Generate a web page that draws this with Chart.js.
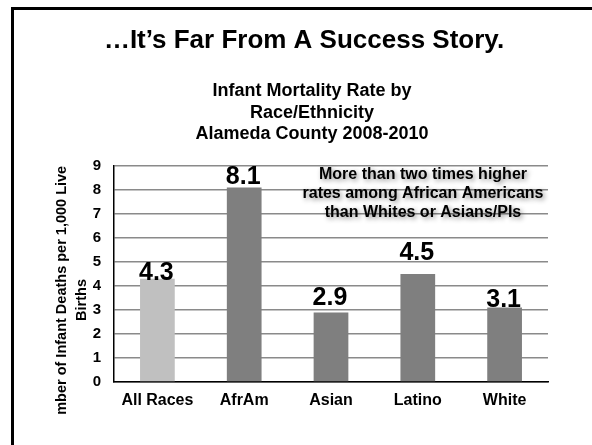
<!DOCTYPE html>
<html>
<head>
<meta charset="utf-8">
<script src="https://cdn.jsdelivr.net/npm/chart.js@4.4.0/dist/chart.umd.min.js"></script>
<style>
  html, body { margin: 0; padding: 0; background: #fff; overflow: hidden; }
  #slide { position: relative; width: 592px; height: 445px; }
  #frame { position: absolute; left: 11px; top: 7px; width: 700px; height: 600px;
           border-left: 3px solid #000; border-top: 3px solid #000; }
  #chart { position: absolute; left: 0; top: 0; }
</style>
</head>
<body>
<div id="slide">
  <div id="frame"></div>
  <canvas id="chart" width="592" height="445"></canvas>
</div>
<script>
// Infant mortality per 1,000 live births, Alameda County 2008-2010
const categories = ['All Races', 'AfrAm', 'Asian', 'Latino', 'White'];
const rates = [4.3, 8.1, 2.9, 4.5, 3.1];
const yTicks = [0, 1, 2, 3, 4, 5, 6, 7, 8, 9];

const slideTitle = '\u2026It\u2019s Far From A Success Story.';
const chartTitle = ['Infant Mortality Rate by', 'Race/Ethnicity', 'Alameda County 2008-2010'];
const axisTitle = ['Number of Infant Deaths per 1,000 Live', 'Births'];
const note = ['More than two times higher', 'rates among African Americans', 'than Whites or Asians/PIs'];

const FONT = "'Liberation Sans', Arial, sans-serif";
const barColors = ['#c0c0c0', '#7f7f7f', '#7f7f7f', '#7f7f7f', '#7f7f7f'];
// the value labels were nudged by hand, so each one sits a little differently over its bar
const labelLift = [-1, 4, 7, 14, 1];

const slideText = {
    id: 'slideText',
    afterDatasetsDraw(chart) {
        const ctx = chart.ctx;
        const meta = chart.getDatasetMeta(0);

        // value labels
        ctx.save();
        ctx.fillStyle = '#000';
        ctx.font = `bold 25px ${FONT}`;
        ctx.textAlign = 'center';
        ctx.textBaseline = 'alphabetic';
        meta.data.forEach((bar, i) => {
            ctx.fillText(rates[i].toFixed(1), bar.x - 1, bar.y - labelLift[i]);
        });
        ctx.restore();
    },
    afterDraw(chart) {
        const ctx = chart.ctx;
        ctx.save();
        ctx.fillStyle = '#000';
        ctx.textAlign = 'center';
        ctx.textBaseline = 'alphabetic';

        ctx.font = `bold 26px ${FONT}`;
        ctx.fillText(slideTitle, 304, 48);

        ctx.font = `bold 18px ${FONT}`;
        chartTitle.forEach((line, i) => ctx.fillText(line, 312, 96 + i * 21.5));

        // y axis title, cut off at the bottom
        ctx.save();
        ctx.beginPath();
        ctx.rect(0, 0, 592, 415);
        ctx.clip();
        ctx.translate(62, 300);
        ctx.rotate(-Math.PI / 2);
        ctx.font = `bold 14.5px ${FONT}`;
        ctx.textBaseline = 'middle';
        axisTitle.forEach((line, i) => ctx.fillText(line, 0, i * 20));
        ctx.restore();

        // callout with soft shadow
        ctx.save();
        ctx.font = `bold 16px ${FONT}`;
        ctx.textBaseline = 'middle';
        ctx.shadowColor = 'rgba(0, 0, 0, 0.45)';
        ctx.shadowBlur = 5;
        ctx.shadowOffsetX = 2;
        ctx.shadowOffsetY = 2;
        note.forEach((line, i) => ctx.fillText(line, 423, 175 + i * 19));
        ctx.restore();

        ctx.restore();
    }
};

new Chart(document.getElementById('chart'), {
    type: 'bar',
    data: {
        labels: categories,
        datasets: [{
            data: rates,
            backgroundColor: barColors,
            borderWidth: 0,
            barPercentage: 0.4,
            categoryPercentage: 1.0
        }]
    },
    options: {
        responsive: false,
        maintainAspectRatio: false,
        animation: false,
        layout: {
            padding: { top: 166, right: 44, bottom: 33, left: 0 }
        },
        scales: {
            x: {
                afterFit: scale => { scale.height = 30; },
                grid: { display: false, drawTicks: false },
                border: { display: true, color: '#000', width: 1.5 },
                ticks: {
                    color: '#000',
                    padding: 9,
                    font: { family: FONT, size: 16, weight: 'bold' }
                }
            },
            y: {
                min: 0,
                max: 9,
                afterFit: scale => { scale.width = 114; },
                afterBuildTicks: scale => { scale.ticks = yTicks.map(v => ({ value: v })); },
                grid: { color: '#8a8a8a', lineWidth: 1.5, drawTicks: false },
                border: { display: true, color: '#000', width: 1.5 },
                ticks: {
                    color: '#000',
                    padding: 13,
                    font: { family: FONT, size: 15, weight: 'bold' }
                }
            }
        },
        plugins: {
            legend: { display: false },
            tooltip: { enabled: false }
        }
    },
    plugins: [slideText]
});
</script>
</body>
</html>
